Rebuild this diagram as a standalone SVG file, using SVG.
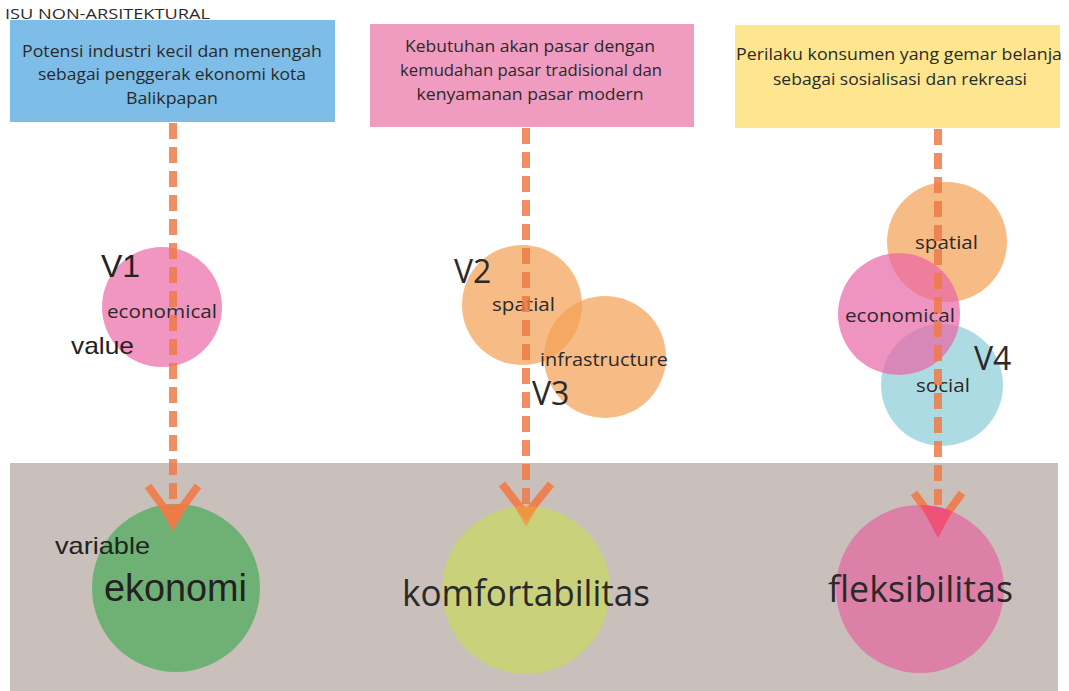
<svg xmlns="http://www.w3.org/2000/svg" width="1069" height="691" viewBox="0 0 1069 691">
<defs>
<style>
.t{font-family:"Open Sans","Noto Sans",sans-serif;fill:#2a2a2a}
.a{font-family:"Liberation Sans",Arial,sans-serif;fill:#222}
.box{font-size:16.5px}
.dash{stroke:#ef7a48;stroke-width:8;stroke-dasharray:16 8;fill:none;opacity:0.85}
.arm{stroke:#ef7a48;stroke-width:8;fill:none;opacity:0.9}
.sm{font-size:19px}
.v{font-size:32px}
</style>
<clipPath id="c1"><circle cx="176" cy="588" r="84"/></clipPath>
<clipPath id="c2"><circle cx="526" cy="590" r="84"/></clipPath>
<clipPath id="c3"><circle cx="920" cy="589" r="84"/></clipPath>
</defs>
<rect width="1069" height="691" fill="#ffffff"/>
<rect x="10" y="463" width="1048" height="228" fill="#c9bfbb"/>
<text class="t" x="5" y="19" font-size="15" textLength="205" lengthAdjust="spacingAndGlyphs">ISU NON-ARSITEKTURAL</text>

<g id="box-ekonomi">
<rect x="10" y="20" width="325" height="102" fill="#7dbde8"/>
<text class="t box" text-anchor="middle" x="172" y="57" textLength="300" lengthAdjust="spacingAndGlyphs">Potensi industri kecil dan menengah</text>
<text class="t box" text-anchor="middle" x="172" y="80" textLength="268" lengthAdjust="spacingAndGlyphs">sebagai penggerak ekonomi kota</text>
<text class="t box" text-anchor="middle" x="172" y="104" textLength="92" lengthAdjust="spacingAndGlyphs">Balikpapan</text>
</g>
<g id="box-pasar">
<rect x="370" y="24" width="324" height="103" fill="#f09cc0"/>
<text class="t box" text-anchor="middle" x="530" y="52" textLength="250" lengthAdjust="spacingAndGlyphs">Kebutuhan akan pasar dengan</text>
<text class="t box" text-anchor="middle" x="531" y="76" textLength="262" lengthAdjust="spacingAndGlyphs">kemudahan pasar tradisional dan</text>
<text class="t box" text-anchor="middle" x="530" y="100" textLength="227" lengthAdjust="spacingAndGlyphs">kenyamanan pasar modern</text>
</g>
<g id="box-perilaku">
<rect x="735" y="25" width="325" height="103" fill="#fde68f"/>
<text class="t box" text-anchor="middle" x="899" y="60" textLength="326" lengthAdjust="spacingAndGlyphs">Perilaku konsumen yang gemar belanja</text>
<text class="t box" text-anchor="middle" x="900" y="85" textLength="254" lengthAdjust="spacingAndGlyphs">sebagai sosialisasi dan rekreasi</text>
</g>

<g id="v1">
<circle cx="162" cy="307" r="60" fill="#f090bd" opacity="0.95"/>
<text class="t sm" x="107" y="318" textLength="110" lengthAdjust="spacingAndGlyphs">economical</text>
<text class="a v" x="101" y="277">V1</text>
<text class="a" x="71" y="354" font-size="24" textLength="63" lengthAdjust="spacingAndGlyphs">value</text>
</g>
<g id="v2">
<circle cx="522" cy="305" r="60" fill="#f4a052" opacity="0.7"/>
<text class="t sm" x="492" y="311" textLength="63" lengthAdjust="spacingAndGlyphs">spatial</text>
<text class="t v" x="454" y="283">V2</text>
</g>
<g id="v3">
<circle cx="605" cy="357" r="61" fill="#f4a052" opacity="0.7"/>
<text class="t sm" x="540" y="366" textLength="128" lengthAdjust="spacingAndGlyphs">infrastructure</text>
<text class="t v" x="532" y="405">V3</text>
</g>
<g id="v4">
<circle cx="942" cy="385" r="61" fill="#9fd5df" opacity="0.85"/>
<circle cx="947" cy="242" r="60" fill="#f4a052" opacity="0.7"/>
<circle cx="899" cy="314" r="61" fill="#e865a6" opacity="0.7"/>
<text class="t sm" x="915" y="249" textLength="63" lengthAdjust="spacingAndGlyphs">spatial</text>
<text class="t sm" x="845" y="322" textLength="110" lengthAdjust="spacingAndGlyphs">economical</text>
<text class="t sm" x="916" y="392" textLength="54" lengthAdjust="spacingAndGlyphs">social</text>
<text class="t v" x="974" y="370">V4</text>
</g>

<g id="ekonomi">
<circle cx="176" cy="588" r="84" fill="#6fb174"/>
<text class="a" x="55" y="554" font-size="24" textLength="95" lengthAdjust="spacingAndGlyphs">variable</text>
<text class="a" x="104" y="601" font-size="38" textLength="143" lengthAdjust="spacingAndGlyphs">ekonomi</text>
</g>
<g id="komfortabilitas">
<circle cx="526" cy="590" r="84" fill="#c9d27a"/>
<text class="t" x="402" y="606" font-size="37" textLength="248" lengthAdjust="spacingAndGlyphs">komfortabilitas</text>
</g>
<g id="fleksibilitas">
<circle cx="920" cy="589" r="84" fill="#dc80a8"/>
<text class="t" x="828" y="602" font-size="37" textLength="185" lengthAdjust="spacingAndGlyphs">fleksibilitas</text>
</g>

<g id="connectors">
<line class="dash" x1="173" y1="123" x2="173" y2="515"/>
<line class="dash" x1="526" y1="128" x2="526" y2="505"/>
<line class="dash" x1="938" y1="129" x2="938" y2="520"/>
<polyline class="arm" points="148,486 173,520 198,486"/>
<polygon points="148,486 173,532 198,486" fill="#ef7a48" opacity="0.85" clip-path="url(#c1)"/>
<polyline class="arm" points="502,484 526,515 551,484"/>
<polygon points="502,484 526,527 551,484" fill="#ef9a40" opacity="0.75" clip-path="url(#c2)"/>
<polyline class="arm" points="914,493 938,526 962,493"/>
<polygon points="914,493 938,538 962,493" fill="#ee4a7a" opacity="0.85" clip-path="url(#c3)"/>
</g>
</svg>
